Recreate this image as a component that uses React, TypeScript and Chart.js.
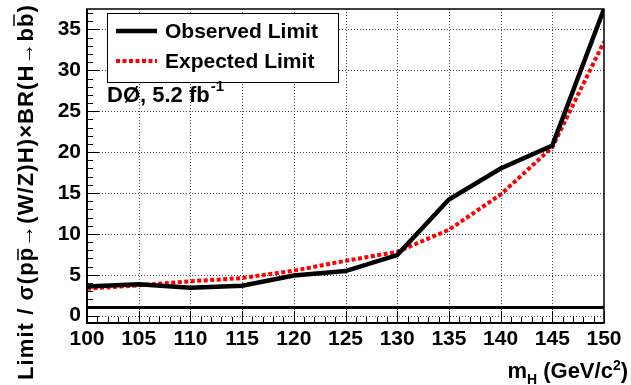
import React, { useEffect, useRef } from "react";
import { Chart, registerables } from "chart.js";

Chart.register(...registerables);

// ---- data ----
const massPoints = [100, 105, 110, 115, 120, 125, 130, 135, 140, 145, 150];
const observedLimit = [3.55, 3.85, 3.4, 3.65, 4.9, 5.45, 7.4, 14.2, 18.0, 20.8, 37.5];
const expectedLimit = [3.3, 3.7, 4.2, 4.6, 5.5, 6.7, 7.8, 10.5, 14.8, 20.6, 33.5];
const smMass = [100, 150];
const smReference = [1, 1];
const xTickLabels = [100, 105, 110, 115, 120, 125, 130, 135, 140, 145, 150];
const yTickLabels = [0, 5, 10, 15, 20, 25, 30, 35];
const legendLabels = ["Observed Limit", "Expected Limit"];
const experimentLabel = "DØ, 5.2 fb";
const experimentSup = "-1";
const X_MIN = 100;
const X_MAX = 150;
const Y_MIN = -0.9;
const Y_MAX = 37.5;

const FONT = "'Liberation Sans', Arial, Helvetica, sans-serif";

const decorPlugin = {
  id: "rootStyle",
  beforeDatasetsDraw(chart: any) {
    const { ctx, chartArea: a, scales } = chart;
    const xs = scales.x;
    const ys = scales.y;
    ctx.save();
    // dotted grid
    ctx.strokeStyle = "#444";
    ctx.lineWidth = 1;
    ctx.setLineDash([1, 2]);
    xTickLabels.forEach((v) => {
      if (v <= X_MIN || v >= X_MAX) return;
      const px = Math.round(xs.getPixelForValue(v)) + 0.5;
      ctx.beginPath();
      ctx.moveTo(px, a.top);
      ctx.lineTo(px, a.bottom);
      ctx.stroke();
    });
    yTickLabels.forEach((v) => {
      const py = Math.round(ys.getPixelForValue(v)) + 0.5;
      ctx.beginPath();
      ctx.moveTo(a.left, py);
      ctx.lineTo(a.right, py);
      ctx.stroke();
    });
    ctx.setLineDash([]);
    // inward ticks (major + minor)
    ctx.strokeStyle = "#000";
    ctx.lineWidth = 1;
    for (let v = X_MIN; v <= X_MAX; v += 1) {
      const major = v % 5 === 0;
      const px = Math.round(xs.getPixelForValue(v)) + 0.5;
      ctx.beginPath();
      ctx.moveTo(px, a.bottom);
      ctx.lineTo(px, a.bottom - (major ? 12 : 6));
      ctx.stroke();
    }
    for (let v = Math.ceil(Y_MIN); v <= Math.floor(Y_MAX); v += 1) {
      const major = v % 5 === 0;
      const py = Math.round(ys.getPixelForValue(v)) + 0.5;
      ctx.beginPath();
      ctx.moveTo(a.left, py);
      ctx.lineTo(a.left + (major ? 12 : 6), py);
      ctx.stroke();
    }
    ctx.restore();
  },
  afterDatasetsDraw(chart: any) {
    const { ctx, chartArea: a } = chart;
    ctx.save();
    // frame
    ctx.strokeStyle = "#000";
    ctx.lineWidth = 1.5;
    ctx.strokeRect(a.left, a.top, a.right - a.left, a.bottom - a.top);
    ctx.lineWidth = 2;
    ctx.beginPath();
    ctx.moveTo(a.left, a.top);
    ctx.lineTo(a.left, a.bottom);
    ctx.lineTo(a.right, a.bottom);
    ctx.stroke();

    // legend box
    const lx = 107, ly = 13, lw = 231, lh = 69;
    ctx.fillStyle = "#fff";
    ctx.fillRect(lx, ly, lw, lh);
    ctx.lineWidth = 1;
    ctx.strokeStyle = "#000";
    ctx.strokeRect(lx + 0.5, ly + 0.5, lw, lh);
    const ds = chart.data.datasets;
    const rows = [31, 61];
    ctx.font = `bold 21px ${FONT}`;
    ctx.textBaseline = "middle";
    ctx.textAlign = "left";
    rows.forEach((ry, i) => {
      const d = ds[i];
      ctx.beginPath();
      ctx.strokeStyle = d.borderColor;
      ctx.lineWidth = d.borderWidth;
      ctx.setLineDash(d.borderDash || []);
      ctx.moveTo(116, ry);
      ctx.lineTo(157, ry);
      ctx.stroke();
      ctx.setLineDash([]);
      ctx.fillStyle = "#000";
      ctx.fillText(legendLabels[i], 165, ry + 1);
    });

    // experiment label
    ctx.textBaseline = "alphabetic";
    ctx.font = `bold 22px ${FONT}`;
    ctx.fillText(experimentLabel, 107, 102);
    const w = ctx.measureText(experimentLabel).width;
    ctx.font = `bold 15px ${FONT}`;
    ctx.fillText(experimentSup, 107 + w + 1, 91);
    ctx.restore();
  },
  afterDraw(chart: any) {
    const { ctx } = chart;
    ctx.save();
    ctx.fillStyle = "#000";
    ctx.strokeStyle = "#000";
    ctx.textBaseline = "alphabetic";
    ctx.textAlign = "left";

    // x-axis title: m_H (GeV/c^2), right aligned
    const big = `bold 22px ${FONT}`;
    const sub = `bold 14px ${FONT}`;
    const parts: [string, string, number][] = [
      ["m", big, 0],
      ["H", sub, 6],
      [" (GeV/c", big, 0],
      ["2", sub, -8],
      [")", big, 0],
    ];
    let total = 0;
    parts.forEach(([t, f]) => {
      ctx.font = f;
      total += ctx.measureText(t).width;
    });
    let x = 628 - total;
    parts.forEach(([t, f, dy]) => {
      ctx.font = f;
      ctx.fillText(t, x, 378 + dy);
      x += ctx.measureText(t).width;
    });

    // y-axis title (rotated), from bottom (y≈380) to top (y≈4)
    const ySegs: [string, boolean][] = [
      ["Limit / σ(p", false],
      ["p", true],
      ["→(W/Z)H)×BR(H→b", false],
      ["b", true],
      [")", false],
    ];
    ctx.font = `bold 22px ${FONT}`;
    let natural = 0;
    let nChars = 0;
    ySegs.forEach(([t]) => {
      natural += ctx.measureText(t).width;
      nChars += [...t].length;
    });
    const targetLen = 376;
    const spacing = Math.max(0, (targetLen - natural) / nChars);
    const hasLS = "letterSpacing" in ctx;
    if (hasLS) (ctx as any).letterSpacing = `${spacing}px`;
    let tw = 0;
    ySegs.forEach(([t]) => (tw += ctx.measureText(t).width));
    ctx.translate(33, 4 + tw);
    ctx.rotate(-Math.PI / 2);
    let cx = 0;
    ySegs.forEach(([t, bar]) => {
      const ww = ctx.measureText(t).width;
      ctx.fillText(t, cx, 0);
      if (bar) {
        const yb = t === "p" ? -15 : -19;
        ctx.lineWidth = 1.5;
        ctx.beginPath();
        ctx.moveTo(cx + 1, yb);
        ctx.lineTo(cx + ww - 1 - (hasLS ? spacing : 0), yb);
        ctx.stroke();
      }
      cx += ww;
    });
    ctx.restore();
  },
};

export default function App() {
  const ref = useRef<HTMLCanvasElement>(null);
  useEffect(() => {
    if (!ref.current) return;
    const tickFont = { family: FONT, weight: "bold" as const, size: 21 };
    const chart = new Chart(ref.current, {
      type: "line",
      data: {
        datasets: [
          {
            label: legendLabels[0],
            data: massPoints.map((m, i) => ({ x: m, y: observedLimit[i] })),
            borderColor: "#000000",
            borderWidth: 4.5,
            pointRadius: 0,
            tension: 0,
          },
          {
            label: legendLabels[1],
            data: massPoints.map((m, i) => ({ x: m, y: expectedLimit[i] })),
            borderColor: "#ff0000",
            borderWidth: 4,
            borderDash: [4, 2.5],
            pointRadius: 0,
            tension: 0,
          },
          {
            label: "SM",
            data: smMass.map((m, i) => ({ x: m, y: smReference[i] })),
            borderColor: "#000000",
            borderWidth: 3,
            pointRadius: 0,
            tension: 0,
          },
        ],
      },
      options: {
        responsive: false,
        animation: false,
        layout: { padding: { top: 9, right: 27, left: 0, bottom: 0 } },
        plugins: { legend: { display: false }, tooltip: { enabled: false } },
        scales: {
          x: {
            type: "linear",
            min: X_MIN,
            max: X_MAX,
            grid: { display: false, drawTicks: false },
            border: { display: false },
            ticks: { font: tickFont, color: "#000", padding: 4, maxRotation: 0, autoSkip: false },
            afterBuildTicks: (s: any) => {
              s.ticks = xTickLabels.map((v) => ({ value: v }));
            },
            afterFit: (s: any) => {
              s.height = 62;
              s.paddingLeft = 0;
              s.paddingRight = 0;
            },
          },
          y: {
            type: "linear",
            min: Y_MIN,
            max: Y_MAX,
            grid: { display: false, drawTicks: false },
            border: { display: false },
            ticks: { font: tickFont, color: "#000", padding: 6, autoSkip: false },
            afterBuildTicks: (s: any) => {
              s.ticks = yTickLabels.map((v) => ({ value: v }));
            },
            afterFit: (s: any) => {
              s.width = 87;
              s.paddingTop = 0;
              s.paddingBottom = 0;
            },
          },
        },
      },
      plugins: [decorPlugin],
    });
    return () => chart.destroy();
  }, []);
  return (
    <div style={{ position: "absolute", left: 0, top: 0, width: 631, height: 385, background: "#fff" }}>
      <canvas ref={ref} width={631} height={385} style={{ display: "block" }} />
    </div>
  );
}
